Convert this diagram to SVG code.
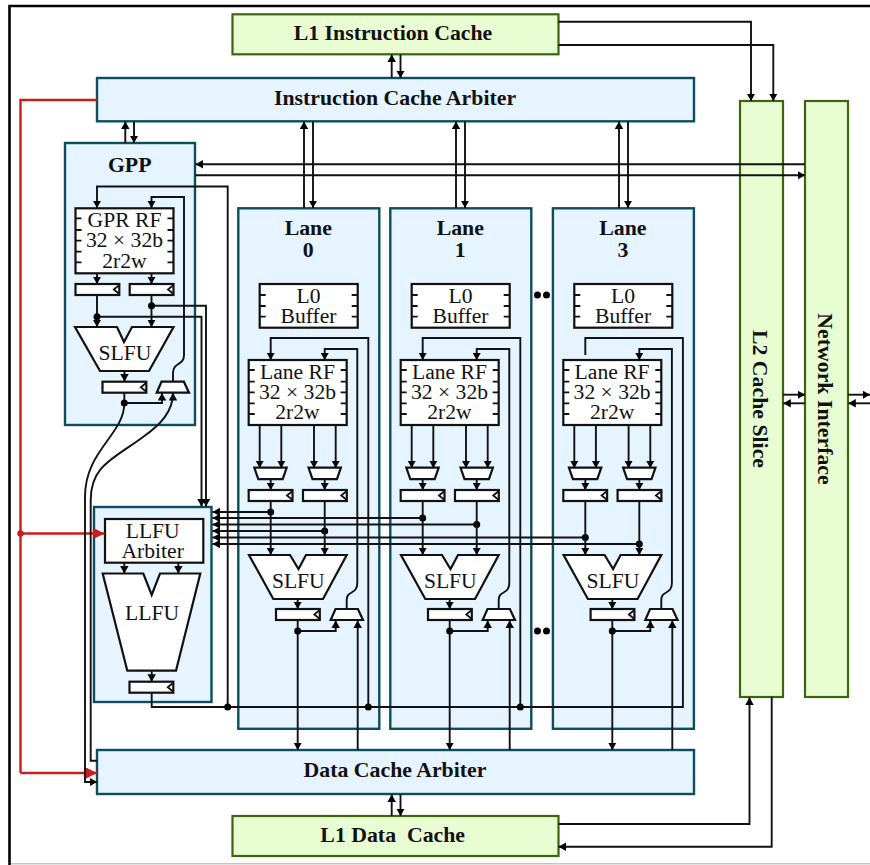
<svg xmlns="http://www.w3.org/2000/svg" width="870" height="865" viewBox="0 0 870 865">
<style>
.frame{fill:none;stroke:#000;stroke-width:2.6}
.blue{fill:#e5f4ff;stroke:#0c4e5f;stroke-width:2.4}
.green{fill:#e9fdd2;stroke:#3c660c;stroke-width:2.2}
.box{fill:#fff;stroke:#111;stroke-width:2.2}
.tick{fill:none;stroke:#111;stroke-width:1.8}
.w{fill:none;stroke:#111;stroke-width:1.9}
.a{marker-end:url(#arrow)}
.red{fill:none;stroke:#c81e1e;stroke-width:2.4}
.dot{fill:#000}
text{font-family:"Liberation Serif","Times New Roman",serif;fill:#111;text-anchor:middle;font-size:21.6px}
.b{font-weight:bold;font-size:21.8px}
</style>
<defs>
<marker id="arrow" markerUnits="userSpaceOnUse" markerWidth="9" markerHeight="9" refX="7.5" refY="4.25" orient="auto"><path d="M0 0L7.5 4.25L0 8.5Z" fill="#000"/></marker>
<marker id="redarrow" markerUnits="userSpaceOnUse" markerWidth="12" markerHeight="12" refX="11" refY="5.5" orient="auto"><path d="M0 0L11 5.5L0 11Z" fill="#c81e1e"/></marker>
<g id="reg"><rect class="box" x="0" y="0" width="43.8" height="11"/><path class="tick" d="M43.8 1L38.3 5.5L43.8 10"/></g>
<polygon id="muxOut" class="box" points="4.8,0 27.2,0 32.3,11 0,11"/>
<polygon id="muxIn" class="box" points="0,0 32.4,0 28.4,11.5 4,11.5"/>
<path id="rfTicks" class="tick" d="M0 10H6M0 21.7H6M0 32.3H6M0 43.3H6M0 54H6M92 10H98M92 21.7H98M92 32.3H98M92 43.3H98M92 54H98"/>
<path id="bufTicks" class="tick" d="M0 11H6M0 22H6M0 32.7H6M92 11H98M92 22H98M92 32.7H98"/>
</defs>
<path id="frame" class="frame" d="M870 6H9.5V865"/>
<path d="M11 863.7H870" fill="none" stroke="#c4c4c4" stroke-width="1.5"/>

<g id="l1-icache"><rect class="green" x="232.5" y="14.3" width="326" height="40"/><text class="b" x="393" y="40">L1 Instruction Cache</text></g>
<g id="icache-arbiter"><rect class="blue" x="97" y="78" width="597" height="43.3"/><text class="b" x="395" y="105">Instruction Cache Arbiter</text></g>
<g id="l2-slice"><rect class="green" x="740" y="101" width="43" height="596"/><text class="b" transform="translate(753 399) rotate(90)">L2 Cache Slice</text></g>
<g id="network-interface"><rect class="green" x="805" y="101" width="43" height="596"/><text class="b" transform="translate(817.5 399) rotate(90)">Network Interface</text></g>
<g id="dcache-arbiter"><rect class="blue" x="97" y="750" width="597" height="44"/><text class="b" x="395" y="776.7">Data Cache Arbiter</text></g>
<g id="l1-dcache"><rect class="green" x="232.5" y="816" width="326" height="40"/><text class="b" x="392.7" y="841.7" xml:space="preserve">L1 Data  Cache</text></g>

<g id="gpp">
<rect class="blue" x="65" y="143" width="130" height="282"/>
<text class="b" x="129.7" y="171.7">GPP</text>
<rect class="box" x="75.5" y="208.3" width="98" height="65"/>
<use href="#rfTicks" x="75.5" y="208.3"/>
<text x="124.5" y="227">GPR RF</text><text x="124.5" y="247">32 × 32b</text><text x="124.5" y="267.5">2r2w</text>
<use href="#reg" x="75.5" y="284"/><use href="#reg" x="129.7" y="284"/>
<polygon class="box" points="75,327 117,327 124,342 132,327 173.5,327 149,371 100,371"/>
<text x="125" y="360">SLFU</text>
<use href="#reg" x="102.5" y="381.7"/>
<use href="#muxOut" x="156.7" y="381.7"/>
</g>

<g id="llfu">
<rect class="blue" x="94" y="507" width="117.5" height="195"/>
<rect class="box" x="105" y="519" width="98.3" height="43.7"/>
<text x="152.7" y="538">LLFU</text><text x="152.7" y="558">Arbiter</text>
<polygon class="box" points="102.7,573.5 143.3,573.5 151.7,595 160,573.5 200.3,573.5 176,670.7 127.3,670.7"/>
<text x="152" y="620">LLFU</text>
<use href="#reg" x="129.5" y="681.7"/>
</g>

<g id="lane-0">
<rect class="blue" x="238.3" y="208.3" width="141" height="520.5"/>
<text class="b" x="308.3" y="235">Lane</text><text class="b" x="308.3" y="256.7">0</text>
<rect class="box" x="259.7" y="284" width="98" height="43.7"/><use href="#bufTicks" x="259.7" y="284"/>
<text x="308.5" y="302.7">L0</text><text x="308.5" y="322.7">Buffer</text>
<rect class="box" x="248.7" y="360" width="98" height="65"/><use href="#rfTicks" x="248.7" y="360"/>
<text x="297.5" y="379">Lane RF</text><text x="297.5" y="399">32 × 32b</text><text x="297.5" y="419.3">2r2w</text>
<use href="#muxIn" x="254.3" y="467.7"/><use href="#muxIn" x="308.5" y="467.7"/>
<use href="#reg" x="248.7" y="490"/><use href="#reg" x="303" y="490"/>
<polygon class="box" points="249,555 290,555 298.5,569 306,555 346.7,555 323,599 273.3,599"/>
<text x="298.3" y="587.7">SLFU</text>
<use href="#reg" x="276" y="609"/>
<use href="#muxOut" x="330.7" y="609"/>
</g>
<g id="lane-1" transform="translate(152 0)">
<rect class="blue" x="238.3" y="208.3" width="141" height="520.5"/>
<text class="b" x="308.3" y="235">Lane</text><text class="b" x="308.3" y="256.7">1</text>
<rect class="box" x="259.7" y="284" width="98" height="43.7"/><use href="#bufTicks" x="259.7" y="284"/>
<text x="308.5" y="302.7">L0</text><text x="308.5" y="322.7">Buffer</text>
<rect class="box" x="248.7" y="360" width="98" height="65"/><use href="#rfTicks" x="248.7" y="360"/>
<text x="297.5" y="379">Lane RF</text><text x="297.5" y="399">32 × 32b</text><text x="297.5" y="419.3">2r2w</text>
<use href="#muxIn" x="254.3" y="467.7"/><use href="#muxIn" x="308.5" y="467.7"/>
<use href="#reg" x="248.7" y="490"/><use href="#reg" x="303" y="490"/>
<polygon class="box" points="249,555 290,555 298.5,569 306,555 346.7,555 323,599 273.3,599"/>
<text x="298.3" y="587.7">SLFU</text>
<use href="#reg" x="276" y="609"/>
<use href="#muxOut" x="330.7" y="609"/>
</g>
<g id="lane-3" transform="translate(314.6 0)">
<rect class="blue" x="238.3" y="208.3" width="141" height="520.5"/>
<text class="b" x="308.3" y="235">Lane</text><text class="b" x="308.3" y="256.7">3</text>
<rect class="box" x="259.7" y="284" width="98" height="43.7"/><use href="#bufTicks" x="259.7" y="284"/>
<text x="308.5" y="302.7">L0</text><text x="308.5" y="322.7">Buffer</text>
<rect class="box" x="248.7" y="360" width="98" height="65"/><use href="#rfTicks" x="248.7" y="360"/>
<text x="297.5" y="379">Lane RF</text><text x="297.5" y="399">32 × 32b</text><text x="297.5" y="419.3">2r2w</text>
<use href="#muxIn" x="254.3" y="467.7"/><use href="#muxIn" x="308.5" y="467.7"/>
<use href="#reg" x="248.7" y="490"/><use href="#reg" x="303" y="490"/>
<polygon class="box" points="249,555 290,555 298.5,569 306,555 346.7,555 323,599 273.3,599"/>
<text x="298.3" y="587.7">SLFU</text>
<use href="#reg" x="276" y="609"/>
<use href="#muxOut" x="330.7" y="609"/>
</g>
<g id="ellipsis-top"><circle class="dot" cx="537.5" cy="295" r="3.5"/><circle class="dot" cx="546.5" cy="295" r="3.5"/></g>
<g id="ellipsis-bottom"><circle class="dot" cx="537.5" cy="631" r="3.5"/><circle class="dot" cx="546.5" cy="631" r="3.5"/></g>

<g id="connectors">
<g id="top-bottom-wires">
<path class="w a" d="M391.7 78V54.5"/><path class="w a" d="M400.5 54.5V78"/>
<path class="w a" d="M391.7 816V794.5"/><path class="w a" d="M400.5 794.5V816"/>
<path class="w a" d="M558.5 21.7H751V101"/><path class="w a" d="M558.5 45H773.3V101"/>
<path class="w a" d="M558.5 824H749.5V697.5"/><path class="w a" d="M771.7 697V846.7H558.5"/>
<path class="w a" d="M805 164.3H195.5"/><path class="w a" d="M195 175.3H805"/>
<path class="w a" d="M783 394.7H805"/><path class="w a" d="M805 403.3H783.3"/>
<path class="w a" d="M848 394.7H870"/><path class="w a" d="M870 403.3H848.3"/>
<path class="w a" d="M125.3 143V121.5"/><path class="w a" d="M134 121.5V143"/>
<path class="w a" d="M304 208V121.5"/><path class="w a" d="M313 121.5V208"/>
<path class="w a" d="M456 208V121.5"/><path class="w a" d="M465 121.5V208"/>
<path class="w a" d="M619 208V121.5"/><path class="w a" d="M628 121.5V208"/>
</g>
<g id="red-wires">
<path class="red" d="M97 100H20.5V773"/>
<path class="red" d="M20.5 773H97" marker-end="url(#redarrow)"/>
<path class="red" d="M20.5 533.5H104.5" marker-end="url(#redarrow)"/>
<circle cx="20.5" cy="533.5" r="3.2" fill="#c81e1e"/>
</g>
<g id="gpp-wires">
<path class="w a" d="M97 273.5V284"/><path class="w a" d="M151.5 273.5V284"/>
<path class="w a" d="M97 295V327"/><path class="w a" d="M151.5 295V327"/>
<path class="w a" d="M124.5 371V381.5"/>
<path class="w a" d="M227.7 707V186.5H97V208"/>
<path class="w a" d="M173 381.7V373C173 362 184 366 184 355V197H151.5V208"/>
<path class="w a" d="M97 316.7H201.5V506.5"/><path class="w a" d="M151.5 305.7H206V506.5"/>
<path class="w a" d="M124.3 403H162V393"/>
<path class="w a" d="M124.3 392.7V403C124.3 435 85 450 85 497V782H97"/>
<path class="w a" d="M97 760.7H90.7V500C90.7 465 115 458 143 437C160 425 173 412 173 393"/>
<circle class="dot" cx="97" cy="316.7" r="3.5"/><circle class="dot" cx="151.5" cy="305.7" r="3.5"/><circle class="dot" cx="124.3" cy="403" r="3.5"/>
</g>
<g id="llfu-wires">
<path class="w a" d="M124.3 562.7V573.5"/><path class="w a" d="M178.3 562.7V573.5"/>
<path class="w a" d="M151.7 670.7V681.7"/>
<path class="w" d="M151.7 692.7V707H682.9V338H585.3V355"/>
<circle class="dot" cx="227.7" cy="707" r="3.5"/><circle class="dot" cx="368.3" cy="707" r="3.5"/><circle class="dot" cx="520.3" cy="707" r="3.5"/>
</g>
<g id="bus-wires">
<path class="w a" d="M270.7 512H212.5"/><path class="w a" d="M422.7 518H212.5"/><path class="w a" d="M476.7 524.5H212.5"/>
<path class="w a" d="M324.7 531H212.5"/><path class="w a" d="M585.3 537.5H212.5"/><path class="w a" d="M639.3 544H212.5"/>
<circle class="dot" cx="270.7" cy="512" r="3.5"/><circle class="dot" cx="422.7" cy="518" r="3.5"/><circle class="dot" cx="476.7" cy="524.5" r="3.5"/>
<circle class="dot" cx="324.7" cy="531" r="3.5"/><circle class="dot" cx="585.3" cy="537.5" r="3.5"/><circle class="dot" cx="639.3" cy="544" r="3.5"/>
</g>
<g id="lane-0-wires">
<path class="w a" d="M368.3 707V338H270.7V360"/>
<path class="w a" d="M346.7 609V600C346.7 590 357.3 595 357.3 583V349H324.7V360"/>
<path class="w a" d="M259.7 425V468"/><path class="w a" d="M281.3 425V468"/><path class="w a" d="M314 425V468"/><path class="w a" d="M335.7 425V468"/>
<path class="w a" d="M270.7 479V490"/><path class="w a" d="M324.7 479V490"/>
<path class="w a" d="M270.7 501V555"/><path class="w a" d="M324.7 501V555"/>
<path class="w a" d="M297.7 599V609"/><path class="w a" d="M297.7 620V750"/>
<path class="w a" d="M297.7 631H335.7V620.5"/><path class="w a" d="M357.7 750V620.5"/>
<circle class="dot" cx="297.7" cy="631" r="3.5"/>
</g>
<g id="lane-1-wires" transform="translate(152 0)">
<path class="w a" d="M368.3 707V338H270.7V360"/>
<path class="w a" d="M346.7 609V600C346.7 590 357.3 595 357.3 583V349H324.7V360"/>
<path class="w a" d="M259.7 425V468"/><path class="w a" d="M281.3 425V468"/><path class="w a" d="M314 425V468"/><path class="w a" d="M335.7 425V468"/>
<path class="w a" d="M270.7 479V490"/><path class="w a" d="M324.7 479V490"/>
<path class="w a" d="M270.7 501V555"/><path class="w a" d="M324.7 501V555"/>
<path class="w a" d="M297.7 599V609"/><path class="w a" d="M297.7 620V750"/>
<path class="w a" d="M297.7 631H335.7V620.5"/><path class="w a" d="M357.7 750V620.5"/>
<circle class="dot" cx="297.7" cy="631" r="3.5"/>
</g>
<g id="lane-3-wires" transform="translate(314.6 0)">
<path class="w a" d="M346.7 609V600C346.7 590 357.3 595 357.3 583V349H324.7V360"/>
<path class="w a" d="M259.7 425V468"/><path class="w a" d="M281.3 425V468"/><path class="w a" d="M314 425V468"/><path class="w a" d="M335.7 425V468"/>
<path class="w a" d="M270.7 479V490"/><path class="w a" d="M324.7 479V490"/>
<path class="w a" d="M270.7 501V555"/><path class="w a" d="M324.7 501V555"/>
<path class="w a" d="M297.7 599V609"/><path class="w a" d="M297.7 620V750"/>
<path class="w a" d="M297.7 631H335.7V620.5"/><path class="w a" d="M357.7 750V620.5"/>
<circle class="dot" cx="297.7" cy="631" r="3.5"/>
</g>
</g>
</svg>
